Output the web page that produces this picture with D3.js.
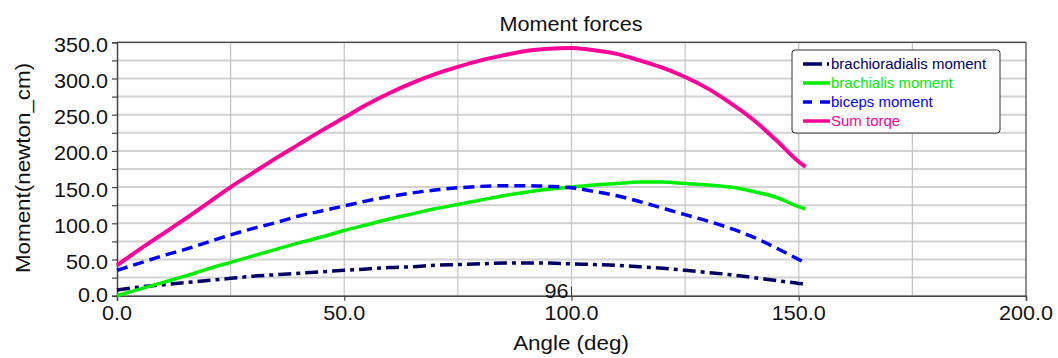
<!DOCTYPE html>
<html>
<head>
<meta charset="utf-8">
<script src="https://cdn.jsdelivr.net/npm/d3@7"></script>
<style>
  body { margin: 0; background: #fff; }
  text { font-family: "Liberation Sans", Arial, sans-serif; }
</style>
</head>
<body>
<div id="chart"></div>
<script>
// angles (deg)
const angles = [0, 5, 10, 15, 20, 25, 30, 35, 40, 45, 50, 55, 60, 65, 70, 75,
  80, 85, 90, 95, 100, 105, 110, 115, 120, 125, 130, 135, 140, 145, 150, 151.5];

const brachioradialis = [8, 12, 15, 18, 21, 24, 27, 29, 31, 33, 35, 37, 39, 40, 42, 43,
  44, 45, 45, 45, 44, 43, 42, 40, 38, 35, 32, 29, 25, 21, 17, 16];
const brachialis = [0, 9, 18, 27, 37, 46, 55, 64, 73, 81, 90, 98, 106, 113, 120, 126,
  132, 138, 143, 147, 150, 153, 155, 157, 157, 155, 153, 150, 144, 136, 123, 120];
const biceps = [35, 45, 55, 64, 74, 84, 93, 101, 110, 117, 124, 131, 137, 142, 146, 149,
  151, 152, 152, 151, 149, 144, 138, 130, 121, 112, 103, 93, 81, 66, 50, 45];
const sumTorque = [42, 64, 85, 106, 128, 150, 170, 190, 209, 228, 246, 264, 280, 294, 306, 316,
  325, 332, 338, 341, 342, 339, 334, 325, 315, 302, 286, 266, 243, 215, 185, 178];

const seriesNames = ['brachioradialis moment', 'brachialis moment', 'biceps moment', 'Sum torqe'];
const xTicks = [0, 50, 100, 150, 200];
const yTicks = [0, 50, 100, 150, 200, 250, 300, 350];
const cursorLabel = '96';
const cursorAngle = 100;

const W = 1058, H = 358;
const x = d3.scaleLinear().domain([0, 200]).range([117, 1026]);
const y = d3.scaleLinear().domain([0, 350]).range([295.7, 42.3]);

const svg = d3.select('#chart').append('svg').attr('width', W).attr('height', H);

// grid
svg.append('g').selectAll('line')
  .data(d3.range(0, 351, 25))
  .enter().append('line')
  .attr('x1', x(0)).attr('x2', x(200))
  .attr('y1', d => y(d)).attr('y2', d => y(d))
  .attr('stroke', '#d2d2d2').attr('stroke-width', 2);
svg.append('g').selectAll('line')
  .data(d3.range(25, 200, 25))
  .enter().append('line')
  .attr('y1', y(0)).attr('y2', y(350))
  .attr('x1', d => x(d)).attr('x2', d => x(d))
  .attr('stroke', '#c4c4c4').attr('stroke-width', 1.2);

// frame
svg.append('line').attr('x1', x(0)).attr('x2', x(200)).attr('y1', y(350)).attr('y2', y(350))
  .attr('stroke', '#444').attr('stroke-width', 1.3);
svg.append('line').attr('x1', x(200)).attr('x2', x(200)).attr('y1', y(350)).attr('y2', y(0))
  .attr('stroke', '#555').attr('stroke-width', 1.3);

// axes
const yAxis = d3.axisLeft(y).tickValues(d3.range(0, 351, 25)).tickSize(5).tickFormat('');
const gy = svg.append('g').attr('transform', `translate(${x(0)},0)`).call(yAxis);
const xAxis = d3.axisBottom(x).tickValues(xTicks).tickSize(5).tickFormat('');
const gx = svg.append('g').attr('transform', `translate(0,${y(0)})`).call(xAxis);
[gy, gx].forEach(g => {
  g.select('.domain').attr('stroke', '#444').attr('stroke-width', 1.5);
  g.selectAll('.tick line').attr('stroke', '#444').attr('stroke-width', 1.2);
});

// tick labels (slightly stretched like the original)
svg.append('g').selectAll('g')
  .data(yTicks)
  .enter().append('g')
  .attr('transform', d => `translate(108,${Math.min(y(d) + 9.5, 301.5)}) scale(1.08,1)`)
  .append('text')
  .attr('text-anchor', 'end')
  .attr('font-size', 20)
  .attr('fill', '#111')
  .text(d => d3.format('.1f')(d));

svg.append('g').selectAll('g')
  .data(xTicks)
  .enter().append('g')
  .attr('transform', d => `translate(${x(d)},320) scale(1.08,1)`)
  .append('text')
  .attr('text-anchor', 'middle')
  .attr('font-size', 20)
  .attr('fill', '#111')
  .text(d => d3.format('.1f')(d));

// titles
svg.append('g').attr('transform', 'translate(571,31) scale(1.03,1)')
  .append('text').attr('text-anchor', 'middle').attr('font-size', 21).attr('fill', '#111')
  .text('Moment forces');
svg.append('g').attr('transform', 'translate(571,350) scale(1.12,1)')
  .append('text').attr('text-anchor', 'middle').attr('font-size', 20).attr('fill', '#111')
  .text('Angle (deg)');
svg.append('g').attr('transform', 'translate(30,168) rotate(-90) scale(1.12,1)')
  .append('text').attr('text-anchor', 'middle').attr('font-size', 20).attr('fill', '#111')
  .text('Moment(newton_cm)');

// cursor marker
svg.append('line').attr('x1', x(cursorAngle)).attr('x2', x(cursorAngle))
  .attr('y1', y(0) - 9).attr('y2', y(0)).attr('stroke', '#333').attr('stroke-width', 1);
svg.append('g').attr('transform', `translate(${x(cursorAngle) - 15},297.5) scale(1.08,1)`)
  .append('text').attr('text-anchor', 'middle').attr('font-size', 20).attr('fill', '#111')
  .text(cursorLabel);

// series
const series = [
  { name: seriesNames[0], values: brachioradialis, color: '#000066', dash: '13,5,4,5', width: 3.5 },
  { name: seriesNames[1], values: brachialis, color: '#00ee00', dash: null, width: 3.5 },
  { name: seriesNames[2], values: biceps, color: '#0000ff', dash: '11,6', width: 3.5 },
  { name: seriesNames[3], values: sumTorque, color: '#ff0099', dash: null, width: 4 }
];

const line = d3.line()
  .x((d, i) => x(angles[i]))
  .y(d => y(d))
  .curve(d3.curveMonotoneX);

svg.append('g').selectAll('path')
  .data(series)
  .enter().append('path')
  .attr('d', d => line(d.values))
  .attr('fill', 'none')
  .attr('stroke', d => d.color)
  .attr('stroke-width', d => d.width)
  .attr('stroke-dasharray', d => d.dash);

// legend
const lg = svg.append('g');
lg.append('rect').attr('x', 792).attr('y', 50).attr('width', 208).attr('height', 83)
  .attr('rx', 3).attr('fill', '#fff').attr('stroke', '#333').attr('stroke-width', 1);
const rows = lg.selectAll('g.row')
  .data(series)
  .enter().append('g')
  .attr('class', 'row')
  .attr('transform', (d, i) => `translate(0,${64 + i * 19})`);
rows.append('line')
  .attr('x1', 803).attr('x2', 830).attr('y1', 0).attr('y2', 0)
  .attr('stroke', d => d.color).attr('stroke-width', 3.5)
  .attr('stroke-dasharray', (d, i) => i === 0 ? '19,5,2,5' : (i === 2 ? '9,8,14' : null));
rows.append('text')
  .attr('x', 831).attr('y', 5)
  .attr('font-size', 15)
  .attr('fill', d => d.color)
  .text(d => d.name);
</script>
</body>
</html>
